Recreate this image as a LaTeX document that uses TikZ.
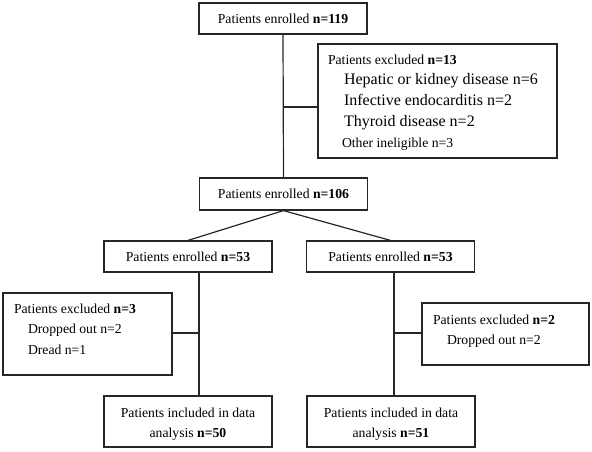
\documentclass[tikz,border=0pt]{standalone}
\usepackage{fontspec}
\setmainfont{Liberation Serif}
\newcommand\fA{\fontsize{13.7}{20.5}\selectfont}
\newcommand\fB{\fontsize{16}{20.75}\selectfont}
\begin{document}
\begin{tikzpicture}[x=1pt,y=-1pt,
  box/.style={draw=black!85, line width=1.2pt, inner sep=0pt, font=\fA},
  onebox/.style={box, minimum width=168pt, minimum height=31pt},
  link/.style={draw=black!85, line width=1.2pt}]
\useasboundingbox (0,0) rectangle (592,451);

\node[onebox] (en119) at (283,18.5) {Patients enrolled \textbf{n=119}};
\node[box] (ex13) at (437.5,101) {\parbox[c][114pt][t]{239pt}{\fontsize{13.7}{20.75}\selectfont\raggedright\leftskip=10pt
  \rule{0pt}{20pt}Patients excluded \textbf{n=13}\\
  \hspace*{16pt}{\fB Hepatic or kidney disease n=6}\\
  \hspace*{16pt}{\fB Infective endocarditis n=2}\\
  \hspace*{16pt}{\fB Thyroid disease n=2}\\
  \hspace*{14pt}Other ineligible n=3}};
\node[onebox, minimum height=32pt] (en106) at (283.5,194) {Patients enrolled \textbf{n=106}};
\node[onebox] (enL) at (188,256.5) {Patients enrolled \textbf{n=53}};
\node[onebox] (enR) at (390.5,256.5) {Patients enrolled \textbf{n=53}};
\node[box] (exL) at (87.5,334) {\parbox[c][82pt][t]{169pt}{\fontsize{13.7}{20.5}\selectfont\raggedright\leftskip=11pt
  \rule{0pt}{20pt}Patients excluded \textbf{n=3}\\
  \hspace*{14pt}Dropped out n=2\\
  \hspace*{14pt}Dread n=1}};
\node[box] (exR) at (505.5,334) {\parbox[c][62pt][t]{167pt}{\fontsize{13.7}{20}\selectfont\raggedright\leftskip=11pt
  \rule{0pt}{21pt}Patients excluded \textbf{n=2}\\
  \hspace*{14pt}Dropped out n=2}};
\node[box] (inL) at (188,421.5) {\parbox[c][51pt][t]{168pt}{\fontsize{13.7}{20}\selectfont\centering
  \rule{0pt}{21pt}Patients included in data\\
  analysis \textbf{n=50}}};
\node[box] (inR) at (391,421.5) {\parbox[c][51pt][t]{168pt}{\fontsize{13.7}{20}\selectfont\centering
  \rule{0pt}{21pt}Patients included in data\\
  analysis \textbf{n=51}}};

\coordinate (j1) at (283,107);
\coordinate (vL) at (199,333);
\coordinate (vR) at (394,333);

\draw[link] (en119.south) -- (en106.north);
\draw[link] (j1) -- (j1 -| ex13.west);
\draw[link] (en106.south) -- (enL.north);
\draw[link] (en106.south) -- (enR.north);
\draw[link] (enL.south -| vL) -- (inL.north -| vL);
\draw[link] (exL.east |- vL) -- (vL);
\draw[link] (enR.south -| vR) -- (inR.north -| vR);
\draw[link] (vR) -- (vR -| exR.west);
\end{tikzpicture}
\end{document}
